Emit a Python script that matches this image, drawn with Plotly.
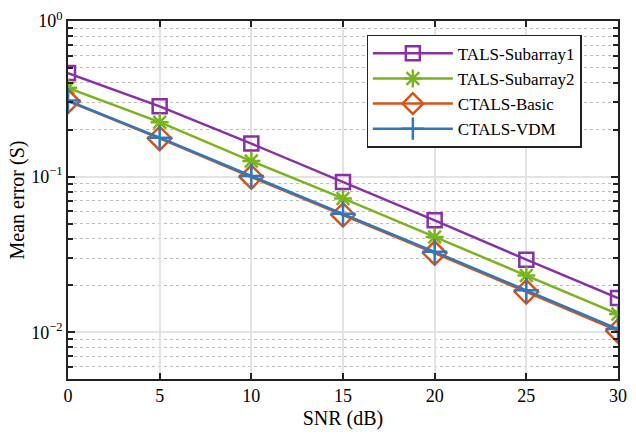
import plotly.graph_objects as go

# SNR sweep and mean error of each estimator
snr_db = [0, 5, 10, 15, 20, 25, 30]
tals_sub1 = [0.463, 0.283, 0.163, 0.0925, 0.0524, 0.0293, 0.0166]
tals_sub2 = [0.372, 0.224, 0.126, 0.0725, 0.0410, 0.0232, 0.0131]
ctals_basic = [0.305, 0.176, 0.0995, 0.0568, 0.0323, 0.0182, 0.0102]
ctals_vdm = [0.308, 0.178, 0.101, 0.0578, 0.0329, 0.0186, 0.0105]

y_tick_vals = [1, 0.1, 0.01]
y_tick_text = ["10<sup>0</sup>", "10<sup>−1</sup>", "10<sup>−2</sup>"]
y_minor_vals = [0.006, 0.007, 0.008, 0.009,
                0.02, 0.03, 0.04, 0.05, 0.06, 0.07, 0.08, 0.09,
                0.2, 0.3, 0.4, 0.5, 0.6, 0.7, 0.8, 0.9]
x_tick_vals = [0, 5, 10, 15, 20, 25, 30]

series = [
    ("TALS-Subarray1", tals_sub1, "#8A2FA6", "square-open", 14),
    ("TALS-Subarray2", tals_sub2, "#7AB51F", "asterisk-open", 15),
    ("CTALS-Basic", ctals_basic, "#DA5316", "diamond-open", 18),
    ("CTALS-VDM", ctals_vdm, "#2D78BE", "cross-thin-open", 18),
]

fig = go.Figure()
for name, vals, color, symbol, size in series:
    fig.add_trace(go.Scatter(
        x=snr_db, y=vals, name=name, mode="lines+markers",
        line=dict(color=color, width=2.5),
        marker=dict(symbol=symbol, size=size, color=color,
                    line=dict(color=color, width=2.5)),
    ))

font_family = "Liberation Serif"

fig.update_layout(
    width=636, height=437,
    margin=dict(l=68, r=9, t=15, b=58),
    paper_bgcolor="white", plot_bgcolor="white",
    font=dict(family=font_family, size=18, color="black"),
    showlegend=True,
    legend=dict(
        x=0.543, y=0.962, xanchor="left", yanchor="top",
        bgcolor="white", bordercolor="#222222", borderwidth=1.2,
        font=dict(family=font_family, size=17, color="black"),
        itemwidth=80, tracegroupgap=0,
    ),
    xaxis=dict(
        range=[0, 30], tickvals=x_tick_vals,
        showgrid=True, gridcolor="#e3e3e3", gridwidth=1.5,
        zeroline=False,
        showline=True, linecolor="#222222", linewidth=1.5, mirror="ticks",
        ticks="inside", ticklen=6, tickcolor="#222222", tickwidth=1.5,
        tickfont=dict(family=font_family, size=18),
        title=dict(text="SNR (dB)", font=dict(family=font_family, size=20),
                   standoff=6),
    ),
    yaxis=dict(
        type="log", range=[-2.3, 0],
        tickvals=y_tick_vals, ticktext=y_tick_text,
        showgrid=True, gridcolor="#e3e3e3", gridwidth=1.5,
        zeroline=False,
        showline=True, linecolor="#222222", linewidth=1.5, mirror="ticks",
        ticks="inside", ticklen=7, tickcolor="#222222", tickwidth=1.5,
        tickfont=dict(family=font_family, size=18),
        minor=dict(tickvals=y_minor_vals, ticks="inside", ticklen=5,
                   tickcolor="#222222", tickwidth=1.5, showgrid=True,
                   gridcolor="#bdbdbd", griddash="dot", gridwidth=1),
        title=dict(text="Mean error (S)", font=dict(family=font_family, size=20),
                   standoff=1),
    ),
)

fig.write_html("out.html")
